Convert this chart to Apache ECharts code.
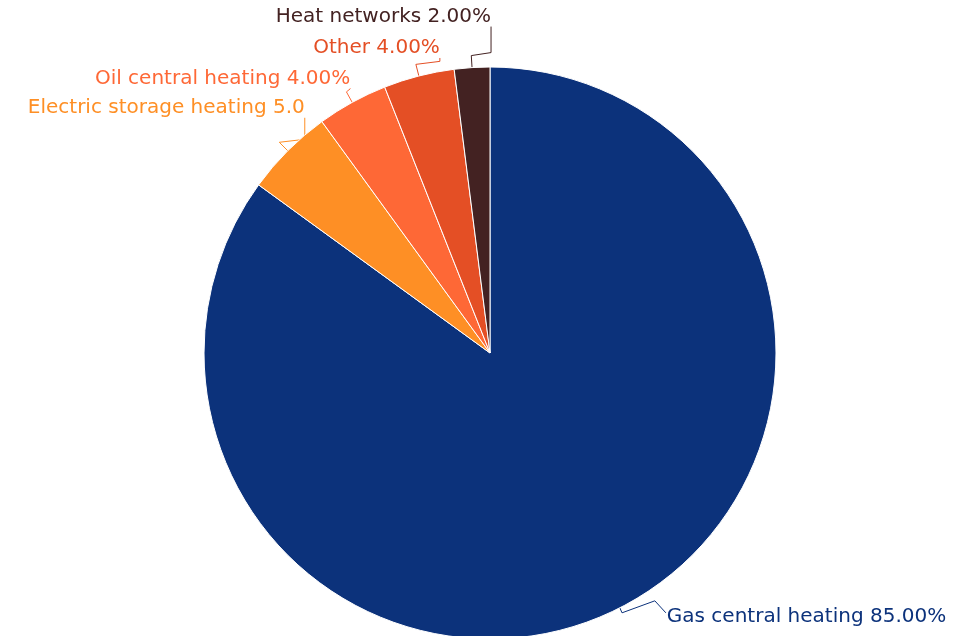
<!DOCTYPE html>
<html>
<head>
<meta charset="utf-8">
<style>
html,body{margin:0;padding:0;background:#fff;}
#chart{width:953px;height:636px;}
</style>
<script src="https://cdn.jsdelivr.net/npm/echarts@6/dist/echarts.min.js"></script>
</head>
<body>
<div id="chart"></div>
<script>
const categories = ['Gas central heating', 'Electric storage heating', 'Oil central heating', 'Other', 'Heat networks'];
const shares = [85, 5, 4, 4, 2];
const colors = ['#0c327b', '#fe8f25', '#fe6836', '#e44f25', '#432222'];
// label anchor offsets from each slice's outer mid-point (style only)
const labelOffsets = [[47, 9], [17, -43], [-2, -24], [21, -28], [19, -51]];

const chart = echarts.init(document.getElementById('chart'), null, {renderer: 'canvas'});
chart.setOption({
  animation: false,
  series: [{
    type: 'pie',
    center: [490, 353],
    radius: 286,
    startAngle: 90,
    clockwise: true,
    avoidLabelOverlap: false,
    itemStyle: {borderColor: '#ffffff', borderWidth: 1},
    label: {
      show: true,
      fontFamily: '"DejaVu Sans", sans-serif',
      fontSize: 20,
      overflow: 'truncate',
      ellipsis: '',
      formatter: function (p) { return p.name + ' ' + p.value.toFixed(2) + '%'; }
    },
    labelLine: {show: true, length: 12, length2: 0, lineStyle: {width: 1}},
    labelLayout: function (p) {
      const pts = p.labelLinePoints;
      const e = pts[0], m = pts[1];
      const off = labelOffsets[p.dataIndex];
      const ax = e[0] + off[0], ay = e[1] + off[1];
      const left = m[0] < e[0];
      if (left) {
        const bottom = ay + 10;
        return {
          x: ax, y: ay, align: 'right', verticalAlign: 'middle',
          width: ax - 12,
          labelLinePoints: [e, m, [ax, Math.max(m[1] - 3, bottom)], [ax, bottom]]
        };
      }
      return {
        x: ax, y: ay, align: 'left', verticalAlign: 'middle',
        labelLinePoints: [e, [e[0] + (m[0] - e[0]) * 0.4, e[1] + 5], [ax - 12, ay - 16], [ax - 1, ay - 4]]
      };
    },
    data: categories.map(function (c, i) {
      return {
        name: c,
        value: shares[i],
        itemStyle: {color: colors[i]},
        label: {color: colors[i]},
        labelLine: {lineStyle: {color: colors[i]}}
      };
    })
  }]
});
</script>
</body>
</html>
